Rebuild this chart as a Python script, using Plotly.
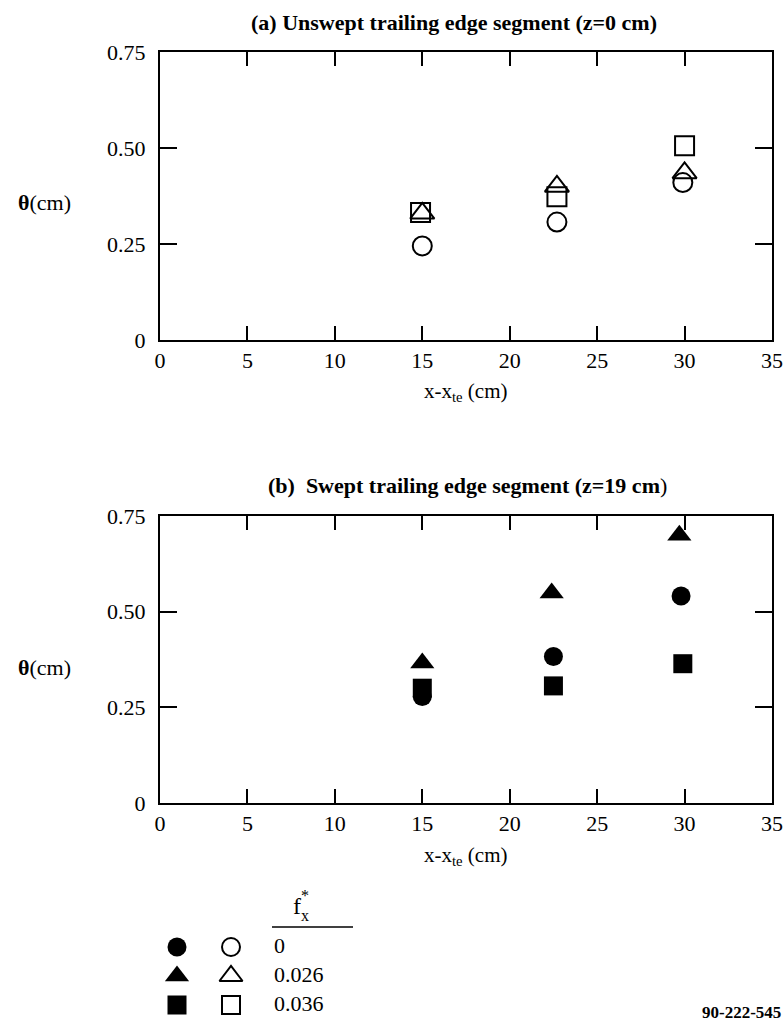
import plotly.graph_objects as go

# ---------------- data ----------------
x_ticks = [0, 5, 10, 15, 20, 25, 30, 35]
y_ticks = [0, 0.25, 0.5, 0.75]
y_tick_labels = ["0", "0.25", "0.50", "0.75"]

# (a) unswept, open symbols
a_circle_x = [15.0, 22.7, 29.9]
a_circle_y = [0.245, 0.307, 0.410]
a_tri_x = [15.0, 22.7, 30.0]
a_tri_y = [0.330, 0.400, 0.435]
a_sq_x = [14.9, 22.7, 30.0]
a_sq_y = [0.332, 0.373, 0.506]

# (b) swept, filled symbols
b_circle_x = [15.0, 22.5, 29.8]
b_circle_y = [0.278, 0.383, 0.541]
b_tri_x = [15.0, 22.4, 29.7]
b_tri_y = [0.366, 0.549, 0.700]
b_sq_x = [15.0, 22.5, 29.9]
b_sq_y = [0.300, 0.306, 0.364]

fx_labels = ["0", "0.026", "0.036"]
symbols = ["circle", "triangle-up", "square"]

# ---------------- figure ----------------
FONT = "Liberation Serif"
W, H = 783, 1023
L, R, T, B = 160, 11, 52, 5
PH = H - T - B


def dom(y_top, y_bot):
    return [(H - B - y_bot) / PH, (H - B - y_top) / PH]


fig = go.Figure()

MS = 19
TS = 21
MLW = 2


def msize(sym):
    return TS if sym.startswith("triangle") else MS


for xs, ys, sym in [(a_circle_x, a_circle_y, "circle-open"),
                    (a_tri_x, a_tri_y, "triangle-up-open"),
                    (a_sq_x, a_sq_y, "square-open")]:
    fig.add_trace(go.Scatter(x=xs, y=ys, mode="markers", xaxis="x", yaxis="y",
                             marker=dict(symbol=sym, size=msize(sym), color="black",
                                         line=dict(width=MLW, color="black")),
                             showlegend=False))

for xs, ys, sym in [(b_circle_x, b_circle_y, "circle"),
                    (b_tri_x, b_tri_y, "triangle-up"),
                    (b_sq_x, b_sq_y, "square")]:
    fig.add_trace(go.Scatter(x=xs, y=ys, mode="markers", xaxis="x2", yaxis="y2",
                             marker=dict(symbol=sym, size=msize(sym), color="black"),
                             showlegend=False))

# legend drawn on an invisible pixel-scaled axis
leg_rows = [947, 976, 1005]
for i, sym in enumerate(symbols):
    fig.add_trace(go.Scatter(x=[177], y=[leg_rows[i]], mode="markers", xaxis="x3", yaxis="y3",
                             marker=dict(symbol=sym, size=msize(sym), color="black"), showlegend=False))
    fig.add_trace(go.Scatter(x=[231], y=[leg_rows[i]], mode="markers", xaxis="x3", yaxis="y3",
                             marker=dict(symbol=sym + "-open", size=msize(sym) - 1, color="black",
                                         line=dict(width=MLW, color="black")), showlegend=False))
    fig.add_trace(go.Scatter(x=[274], y=[leg_rows[i]], mode="text", xaxis="x3", yaxis="y3",
                             text=[fx_labels[i]], textposition="middle right",
                             textfont=dict(family=FONT, size=22, color="black"), showlegend=False))

fig.add_trace(go.Scatter(x=[272, 353], y=[927, 927], mode="lines", xaxis="x3", yaxis="y3",
                         line=dict(color="black", width=1.5), showlegend=False))

axis_common = dict(
    range=[0, 35], tickvals=x_ticks, ticktext=[str(v) for v in x_ticks],
    ticks="inside", ticklen=14, tickwidth=1.5, tickcolor="black",
    showline=True, linecolor="black", linewidth=2, mirror="allticks",
    showgrid=False, zeroline=False,
    tickfont=dict(family=FONT, size=22, color="black"),
)
yaxis_common = dict(
    range=[0, 0.75], tickvals=y_ticks, ticktext=y_tick_labels,
    ticks="inside", ticklen=17, tickwidth=1.5, tickcolor="black",
    showline=True, linecolor="black", linewidth=2, mirror="allticks",
    showgrid=False, zeroline=False, ticklabelstandoff=8,
    tickfont=dict(family=FONT, size=22, color="black"),
)

fig.update_layout(
    width=W, height=H,
    margin=dict(l=L, r=R, t=T, b=B, autoexpand=False),
    paper_bgcolor="white", plot_bgcolor="white",
    font=dict(family=FONT, color="black"),
    xaxis=dict(axis_common, domain=[0, 1], anchor="y"),
    yaxis=dict(yaxis_common, domain=dom(52, 340), anchor="x"),
    xaxis2=dict(axis_common, domain=[0, 1], anchor="y2"),
    yaxis2=dict(yaxis_common, domain=dom(516, 803), anchor="x2"),
    xaxis3=dict(domain=[0, 1], anchor="y3", range=[L, W - R], visible=False),
    yaxis3=dict(domain=dom(880, 1018), anchor="x3", range=[1018, 880], visible=False),
    showlegend=False,
)


def px(x):
    return (x - L) / (W - L - R)


def py(y):
    return (H - B - y) / PH


anns = [
    dict(x=px(454), y=py(23), text="<b>(a) Unswept trailing edge segment (z=0 cm)</b>", size=22),
    dict(x=px(467), y=py(485), text="<b>(b)  Swept trailing edge segment (z=19 cm</b>)", size=22),
    dict(x=px(466), y=py(392), text="x-x<sub>te</sub> (cm)", size=21),
    dict(x=px(466), y=py(856), text="x-x<sub>te</sub> (cm)", size=21),
    dict(x=px(44), y=py(203), text="<b>θ</b>(cm)", size=22),
    dict(x=px(44), y=py(667), text="<b>θ</b>(cm)", size=22),
    dict(x=px(297), y=py(906), text="f", size=24),
    dict(x=px(305), y=py(895), text="*", size=16),
    dict(x=px(305), y=py(915), text="x", size=16),
]
for a in anns:
    fig.add_annotation(x=a["x"], y=a["y"], xref="paper", yref="paper", text=a["text"],
                       showarrow=False, xanchor="center", yanchor="middle",
                       font=dict(family=FONT, size=a["size"], color="black"))

fig.add_annotation(x=1 + R / (W - L - R), y=py(1012), xref="paper", yref="paper",
                   text="<b>90-222-545</b>", showarrow=False, xanchor="right", yanchor="middle",
                   font=dict(family=FONT, size=17, color="black"))

fig.write_html("out.html")
